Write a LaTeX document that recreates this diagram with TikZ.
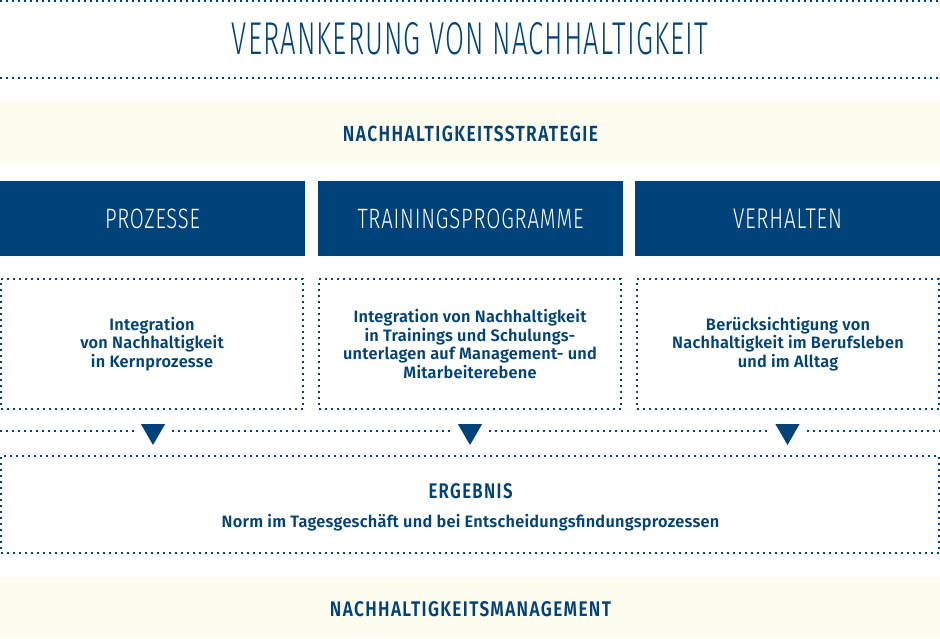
\documentclass[tikz,border=0pt]{standalone}
\usepackage{fontspec}
\usepackage{graphicx}
\usetikzlibrary{shapes.geometric}
\setmainfont{Fira Sans}
\newfontfamily\lightfont[LetterSpace=4]{Fira Sans Light}
\newfontfamily\capsfont[LetterSpace=8]{Fira Sans SemiBold}
\newfontfamily\bodyfont[FakeStretch=0.99,LetterSpace=1.5]{Fira Sans SemiBold}
\definecolor{navy}{HTML}{00437A}
\definecolor{cream}{HTML}{FEFCEE}
\newcommand{\fitcaps}[3]{\resizebox{#1pt}{#2pt}{#3}}

\begin{document}
\begin{tikzpicture}[x=1pt,y=-1pt,
    dotline/.style={navy,line width=2pt,dash pattern=on 2pt off 4pt},
    dotbox/.style={draw=navy,line width=2pt,dash pattern=on 2pt off 4pt,
      minimum width=302pt,minimum height=130pt,inner sep=0pt,align=center,
      text=navy,font=\bodyfont\fontsize{16.5}{18.6}\selectfont},
    bluebox/.style={fill=navy,minimum width=305pt,minimum height=75pt,
      inner sep=0pt,text=white},
    band/.style={fill=cream,minimum width=940pt,minimum height=60pt,inner sep=0pt},
    label/.style={inner sep=0pt,text=navy},
    tri/.style={regular polygon,regular polygon sides=3,shape border rotate=180,
      fill=navy,minimum size=28pt,inner sep=0pt,outer sep=0pt}]

  \useasboundingbox (0,0) rectangle (940,638);

  % title
  \draw[dotline] (0,1) -- (940,1);
  \node[label] (title) at (470,39) {\fitcaps{476}{32}{\lightfont VERANKERUNG VON NACHHALTIGKEIT}};
  \draw[dotline] (0,78) -- (940,78);

  % strategie
  \node[band] (strategie) at (470,133) {};
  \node[label] (strategietext) at (470.5,134) {\fitcaps{255}{15.5}{\capsfont NACHHALTIGKEITSSTRATEGIE}};

  % drei saeulen
  \node[bluebox] (prozesse) at (152.5,218.5) {\fitcaps{95}{19.5}{\lightfont PROZESSE}};
  \node[bluebox] (training) at (470.5,218.5) {\fitcaps{226}{19.5}{\lightfont TRAININGSPROGRAMME}};
  \node[bluebox] (verhalten) at (787.5,218.5) {\fitcaps{109}{19.5}{\lightfont VERHALTEN}};

  \node[dotbox] (p1) at (152,344) {Integration\\von Nachhaltigkeit\\in Kernprozesse};
  \node[dotbox] (p2) at (470,344) {Integration von Nachhaltigkeit\\in Trainings und Schulungs-\\unterlagen auf Management- und\\Mitarbeiterebene};
  \node[dotbox] (p3) at (788,344) {Berücksichtigung von\\Nachhaltigkeit im Berufsleben\\und im Alltag};

  % pfeile
  \node[tri] (t1) at (153,431) {};
  \node[tri] (t2) at (470,431) {};
  \node[tri] (t3) at (787.5,431) {};
  \draw[dotline] (0,431) -- ([xshift=-11pt]t1.west);
  \draw[dotline] ([xshift=11pt]t1.east) -- ([xshift=-11pt]t2.west);
  \draw[dotline] ([xshift=11pt]t2.east) -- ([xshift=-11pt]t3.west);
  \draw[dotline] ([xshift=11pt]t3.east) -- (940,431);

  % ergebnis
  \node[dotbox,minimum width=938pt,minimum height=97pt] (ergebnis) at (470,504.5) {};
  \node[label] (ergebnistitel) at (470.5,491) {\fitcaps{84}{15}{\capsfont ERGEBNIS}};
  \node[label,font=\bodyfont\fontsize{16.5}{18.6}\selectfont] (ergebnistext) at (470.5,523)
    {Norm im Tagesgeschäft und bei Entscheidungsfindungsprozessen};

  % management
  \node[band,minimum height=61pt] (management) at (470,607.5) {};
  \node[label] (managementtext) at (470.5,609) {\fitcaps{281}{15}{\capsfont NACHHALTIGKEITSMANAGEMENT}};

\end{tikzpicture}
\end{document}
